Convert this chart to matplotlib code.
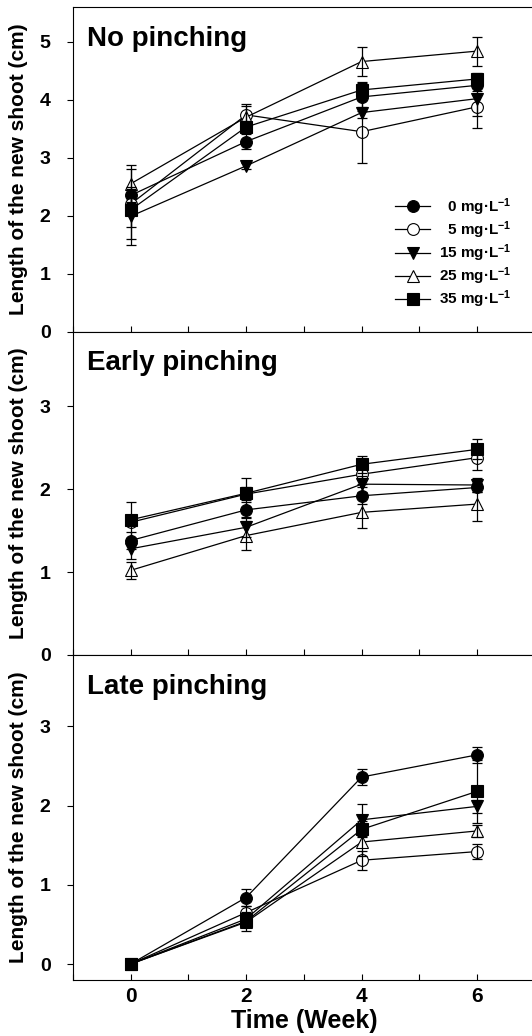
import matplotlib
matplotlib.use("Agg")
import matplotlib.pyplot as plt
from matplotlib.ticker import MultipleLocator

# Fonts: bold Arial-like text everywhere
plt.rcParams["font.family"] = ["Liberation Sans", "DejaVu Sans"]
plt.rcParams["font.weight"] = "bold"
plt.rcParams["mathtext.fontset"] = "custom"
plt.rcParams["mathtext.rm"] = "Liberation Sans:bold"
plt.rcParams["mathtext.it"] = "Liberation Sans:bold"
plt.rcParams["mathtext.bf"] = "Liberation Sans:bold"

# Data
weeks = [0, 2, 4, 6]
concentrations = ["  0 mg·L$^{-1}$", "  5 mg·L$^{-1}$", "15 mg·L$^{-1}$",
                  "25 mg·L$^{-1}$", "35 mg·L$^{-1}$"]

# rows: 0, 5, 15, 25, 35 mg/L
no_pinch_mean = [[2.35, 3.28, 4.05, 4.25],
                 [2.20, 3.74, 3.45, 3.88],
                 [1.99, 2.86, 3.78, 4.02],
                 [2.55, 3.70, 4.66, 4.84],
                 [2.10, 3.53, 4.17, 4.36]]
no_pinch_err = [[0.12, 0.13, 0.25, 0.10],
                [0.60, 0.18, 0.54, 0.37],
                [0.50, 0.05, 0.10, 0.30],
                [0.33, 0.20, 0.25, 0.25],
                [0.30, 0.10, 0.12, 0.10]]

early_mean = [[1.38, 1.75, 1.92, 2.02],
              [1.60, 1.94, 2.18, 2.38],
              [1.28, 1.54, 2.06, 2.05],
              [1.02, 1.44, 1.72, 1.82],
              [1.63, 1.95, 2.30, 2.48]]
early_err = [[0.10, 0.10, 0.10, 0.06],
             [0.25, 0.20, 0.12, 0.15],
             [0.12, 0.12, 0.10, 0.08],
             [0.10, 0.17, 0.19, 0.20],
             [0.06, 0.08, 0.10, 0.12]]

late_mean = [[0.0, 0.84, 2.36, 2.64],
             [0.0, 0.65, 1.31, 1.42],
             [0.0, 0.57, 1.82, 1.99],
             [0.0, 0.53, 1.54, 1.68],
             [0.0, 0.54, 1.70, 2.18]]
late_err = [[0.03, 0.11, 0.10, 0.10],
            [0.03, 0.08, 0.12, 0.10],
            [0.03, 0.06, 0.20, 0.08],
            [0.03, 0.06, 0.18, 0.08],
            [0.03, 0.12, 0.10, 0.40]]

panel_titles = ["No pinching", "Early pinching", "Late pinching"]
panel_means = [no_pinch_mean, early_mean, late_mean]
panel_errs = [no_pinch_err, early_err, late_err]
panel_ylims = [(0, 5.6), (0, 3.9), (-0.2, 3.9)]
panel_yticks = [[0, 1, 2, 3, 4, 5], [0, 1, 2, 3], [0, 1, 2, 3]]

# marker style per concentration
markers = ["o", "o", "v", "^", "s"]
face_colors = ["black", "white", "black", "white", "black"]

fig = plt.figure(figsize=(5.32, 10.36), dpi=100)

# axes boxes in figure fractions (left, bottom, width, height)
boxes = [(0.1367, 0.6798, 0.869, 0.3134),
         (0.1367, 0.3678, 0.869, 0.3121),
         (0.1367, 0.0541, 0.869, 0.3137)]

for p in range(3):
    ax = fig.add_axes(boxes[p])
    handles = []
    for i in range(5):
        line, = ax.plot(weeks, panel_means[p][i], color="black", lw=0.9,
                        marker=markers[i], ms=8.5, mfc=face_colors[i],
                        mec="black", mew=0.8, zorder=2)
        ax.errorbar(weeks, panel_means[p][i], yerr=panel_errs[p][i], fmt="none",
                    ecolor="black", elinewidth=0.9, capsize=3.4, capthick=0.9,
                    zorder=3)
        handles.append(line)

    ax.set_xlim(-1, 7)
    ax.set_ylim(*panel_ylims[p])
    ax.set_yticks(panel_yticks[p])
    ax.xaxis.set_major_locator(MultipleLocator(2))
    ax.xaxis.set_minor_locator(MultipleLocator(1))
    ax.tick_params(axis="y", direction="out", length=4, width=0.8, labelsize=14, pad=12)
    ax.tick_params(axis="x", which="both", direction="in", length=4, width=0.8,
                   labelsize=15, pad=5)
    for spine in ax.spines.values():
        spine.set_linewidth(0.8)

    ax.set_ylabel("Length of the new shoot (cm)", fontsize=15, fontweight="bold")
    ax.yaxis.set_label_coords(-0.097, 0.5)
    ax.text(0.03, 0.88, panel_titles[p], transform=ax.transAxes, fontsize=20,
            fontweight="bold", ha="left", va="baseline")

    if p < 2:
        ax.tick_params(axis="x", labelbottom=False)
    else:
        ax.set_xlabel("Time (Week)", fontsize=18, fontweight="bold", labelpad=2)

    if p == 0:
        ax.legend(handles, concentrations, loc="upper right",
                  bbox_to_anchor=(0.95, 0.418), frameon=False, fontsize=11,
                  handlelength=2.3, handletextpad=0.6, labelspacing=0.1,
                  borderpad=0, borderaxespad=0)

fig.savefig("out.png", dpi=100)
